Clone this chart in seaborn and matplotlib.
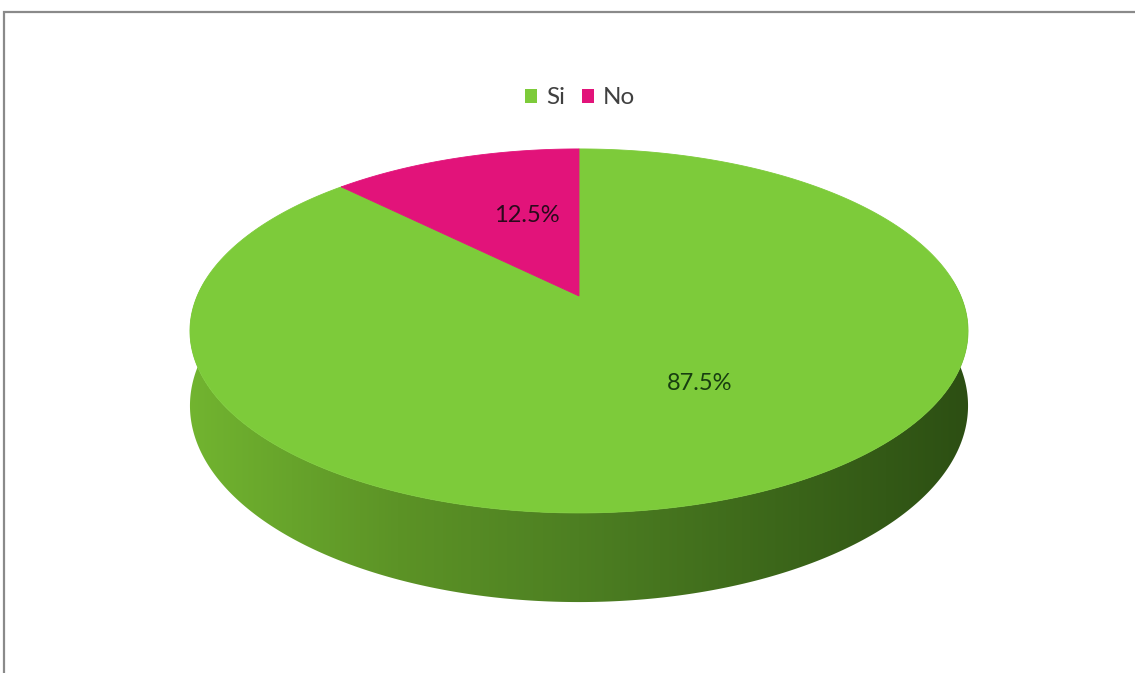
import numpy as np
import matplotlib
matplotlib.use("Agg")
import matplotlib.pyplot as plt
import seaborn as sns
from matplotlib.patches import Polygon, Patch
from matplotlib.colors import LinearSegmentedColormap
from matplotlib.lines import Line2D

# --- data ---
categories = ["Si", "No"]
values = [87.5, 12.5]
label_texts = ["87.5%", "12.5%"]

sns.set_theme(style="white")
plt.rcParams["font.family"] = ["Lato", "DejaVu Sans"]

palette = sns.color_palette(["#7dcb3a", "#e2137a"])
label_colors = ["#173d10", "#2a0a1c"]

W, H = 1135, 673
fig = plt.figure(figsize=(W / 100, H / 100), dpi=100)
ax = fig.add_axes([0, 0, 1, 1])
ax.set_xlim(0, W)
ax.set_ylim(H, 0)
ax.axis("off")

# --- 3D pie geometry (perspective-projected disc) ---
cx, cy = 579.0, 296.0      # projected disc centre
A, B = 381.8, 175.3        # horizontal / depth semi-axes
k = 0.192                  # perspective strength
D = 72.0                   # disc thickness


def project(theta, r=1.0, z=0.0):
    """theta measured clockwise from 12 o'clock (far side)."""
    u = r * np.sin(theta)
    v = -r * np.cos(theta)
    s = 1.0 / (1.0 - k * v)
    return cx + A * u * s, cy + B * v * s + z * s


# side wall (front half of the cylinder)
t_side = np.linspace(np.pi / 2 - np.arcsin(k) - 0.02,
                     3 * np.pi / 2 + np.arcsin(k) + 0.02, 400)
tx, ty = project(t_side)
bx, by = project(t_side, z=D)
side_pts = np.column_stack([np.r_[tx, bx[::-1]], np.r_[ty, by[::-1]]])
side_poly = Polygon(side_pts, closed=True, facecolor="none", edgecolor="none")
ax.add_patch(side_poly)

side_cmap = LinearSegmentedColormap.from_list(
    "side",
    [(0.0, "#72b530"), (0.27, "#5c9326"), (0.5, "#4d7f22"),
     (0.78, "#3a6419"), (1.0, "#2c4e13")],
)
grad = np.linspace(0, 1, 512)[None, :]
img = ax.imshow(grad, cmap=side_cmap, aspect="auto",
                extent=(cx - 395, cx + 395, 620, 280), zorder=1,
                interpolation="bicubic")
img.set_clip_path(side_poly)

# top face slices
total = sum(values)
start = 0.0
for i, val in enumerate(values):
    sweep = 2 * np.pi * val / total
    th = np.linspace(start, start + sweep, 300)
    px, py = project(th)
    pts = np.column_stack([np.r_[cx, px], np.r_[cy, py]])
    ax.add_patch(Polygon(pts, closed=True, facecolor=palette[i],
                         edgecolor=palette[i], lw=0.6, zorder=2))
    start += sweep

# data labels
label_pos = [(700, 383), (527, 215)]
for (lx, ly), txt, col in zip(label_pos, label_texts, label_colors):
    ax.text(lx, ly, txt, ha="center", va="center", fontsize=17,
            color=col, zorder=3)

# legend
handles = [Patch(facecolor=palette[i], edgecolor="none", label=c)
           for i, c in enumerate(categories)]
leg = ax.legend(handles=handles, loc="center",
                bbox_to_anchor=(580 / W, 1 - 98 / H), ncol=2, frameon=False,
                handlelength=0.5, handleheight=0.5, handletextpad=0.35,
                columnspacing=0.7, fontsize=17.5)
for t in leg.get_texts():
    t.set_color("#404040")

# chart area border
ax.add_line(Line2D([4, 4, W + 5], [H + 5, 12, 12], color="#8a8a8a",
                   lw=1.6, solid_joinstyle="miter", zorder=5))

fig.savefig("out.png", dpi=100, facecolor="white")
